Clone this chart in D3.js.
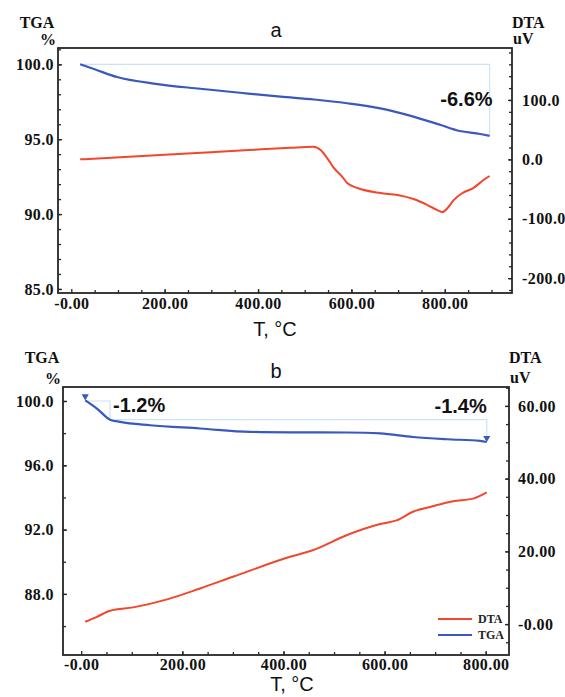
<!DOCTYPE html>
<html>
<head>
<meta charset="utf-8">
<script src="https://cdn.jsdelivr.net/npm/d3@7"></script>
<style>
  html, body { margin: 0; padding: 0; background: #fff; }
  svg { display: block; }
</style>
</head>
<body>
<script>
// ---- panel a ----
const tempA_tga = [19, 50, 98, 180, 276, 362, 448, 520, 591, 662, 733, 791, 827, 876, 896];
const tgaA = [100.0, 99.67, 99.15, 98.7, 98.37, 98.1, 97.84, 97.65, 97.4, 97.06, 96.51, 95.95, 95.58, 95.35, 95.22];
const tempA_dta = [19, 200, 380, 469, 519, 534, 551, 561, 581, 591, 613, 662, 699, 733, 763, 784, 795, 806, 819, 838, 861, 883, 896];
const dtaA = [0, 7.7, 15.6, 19.5, 21.2, 15.7, -1.2, -13, -29.8, -39.9, -48.3, -56.7, -60, -66.8, -76.9, -85.4, -88.7, -82, -68.5, -56.7, -48.3, -34.8, -28];

// ---- panel b ----
const tempB_tga = [8, 31, 57, 77, 136, 235, 334, 413, 526, 591, 656, 723, 789, 802];
const tgaB = [100.04, 99.53, 98.84, 98.70, 98.49, 98.29, 98.08, 98.05, 98.04, 97.98, 97.76, 97.62, 97.52, 97.45];
const tempB_dta = [8, 31, 57, 103, 170, 235, 300, 413, 458, 526, 591, 625, 656, 690, 735, 775, 802];
const dtaB = [0.63, 2.0, 3.65, 4.6, 6.8, 9.8, 13.0, 18.5, 20.3, 24.5, 27.5, 28.6, 30.9, 32.2, 33.8, 34.5, 36.2];

// mass-loss steps: [t start, t end, tga from, tga to, label]
const stepsA = [[19, 896, 100.0, 95.22, '-6.6%']];
const stepsB = [[8, 57, 100.0, 98.84, '-1.2%'], [57, 802, 98.84, 97.45, '-1.4%']];

// ticks
const xTicks = [0, 200, 400, 600, 800];
const xTickLabels = ['-0.00', '200.00', '400.00', '600.00', '800.00'];
const tgaTicksA = [85, 90, 95, 100];
const tgaLabelsA = ['85.0', '90.0', '95.0', '100.0'];
const dtaTicksA = [-200, -100, 0, 100];
const dtaLabelsA = ['-200.0', '-100.0', '0.0', '100.0'];
const tgaTicksB = [88, 92, 96, 100];
const tgaLabelsB = ['88.0', '92.0', '96.0', '100.0'];
const dtaTicksB = [0, 20, 40, 60];
const dtaLabelsB = ['-0.00', '20.00', '40.00', '60.00'];

const legendNames = ['DTA', 'TGA'];

const COLORS = {
  TGA: '#3a58bd',
  DTA: '#f2472c',
  STEP: '#c9e4f5',
  AXIS: '#262626'
};
const SERIF = '"Liberation Serif", "Times New Roman", serif';
const SANS = '"Liberation Sans", Arial, sans-serif';

const svg = d3.select('body').append('svg')
  .attr('width', 565)
  .attr('height', 697)
  .attr('viewBox', [0, 0, 565, 697]);

const range = (a, b, s) => d3.range(a, b + s / 2, s);

const styleTickText = g => {
  g.select('.domain').remove();
  g.selectAll('line').attr('stroke', COLORS.AXIS).attr('stroke-width', 1.3);
  g.selectAll('text')
    .attr('font-family', SERIF)
    .attr('font-weight', 'bold')
    .attr('font-size', 16)
    .attr('letter-spacing', 0.4)
    .attr('fill', '#111');
};

function drawPanel(p) {
  const x = d3.scaleLinear().domain(p.xDomain).range([p.left, p.right]);
  const yL = d3.scaleLinear().domain(p.tgaDomain).range([p.bottom, p.top]);
  const yR = d3.scaleLinear().domain(p.dtaDomain).range([p.bottom, p.top]);
  const g = svg.append('g');

  // step brackets
  p.steps.forEach(([t0, t1, v0, v1]) => {
    g.append('path')
      .attr('d', d3.line()([[x(t0), yL(v0)], [x(t1), yL(v0)], [x(t1), yL(v1)]]))
      .attr('fill', 'none')
      .attr('stroke', COLORS.STEP)
      .attr('stroke-width', 1.2);
  });

  const tgaLine = d3.line().x(d => x(d[0])).y(d => yL(d[1])).curve(d3.curveMonotoneX);
  const dtaLine = d3.line().x(d => x(d[0])).y(d => yR(d[1])).curve(d3.curveMonotoneX);

  g.append('path')
    .attr('d', dtaLine(d3.zip(p.dtaT, p.dta)))
    .attr('fill', 'none').attr('stroke', COLORS.DTA).attr('stroke-width', 2);
  g.append('path')
    .attr('d', tgaLine(d3.zip(p.tgaT, p.tga)))
    .attr('fill', 'none').attr('stroke', COLORS.TGA).attr('stroke-width', 2.2);

  if (p.markers) {
    const tri = d3.symbol().type(d3.symbolTriangle).size(22);
    [[p.tgaT[0], p.tga[0]], [p.tgaT[p.tgaT.length - 1], p.tga[p.tga.length - 1]]].forEach(([t, v]) => {
      g.append('path')
        .attr('d', tri())
        .attr('transform', `translate(${x(t)},${yL(v) - 4}) rotate(180)`)
        .attr('fill', COLORS.TGA);
    });
  }

  // step labels
  p.steps.forEach((s, i) => {
    const lab = p.stepLabels[i];
    g.append('text')
      .attr('x', x(lab.t) + lab.dx)
      .attr('y', yL(lab.v))
      .attr('text-anchor', lab.anchor)
      .attr('font-family', SANS)
      .attr('font-weight', 'bold')
      .attr('font-size', 20)
      .attr('fill', '#111')
      .text(s[4]);
  });

  // axes
  g.append('g').attr('transform', `translate(0,${p.bottom})`)
    .call(d3.axisBottom(x).tickValues(p.xMinor).tickSize(-3).tickFormat(''))
    .call(styleTickText);
  g.append('g').attr('transform', `translate(0,${p.bottom})`)
    .call(d3.axisBottom(x).tickValues(xTicks).tickSize(-4).tickPadding(p.xPad)
      .tickFormat((d, i) => xTickLabels[i]))
    .call(styleTickText);

  g.append('g').attr('transform', `translate(${p.left},0)`)
    .call(d3.axisLeft(yL).tickValues(p.tgaMinor).tickSize(-3).tickFormat(''))
    .call(styleTickText);
  g.append('g').attr('transform', `translate(${p.left},0)`)
    .call(d3.axisLeft(yL).tickValues(p.tgaTicks).tickSize(-4).tickPadding(p.lPad)
      .tickFormat((d, i) => p.tgaLabels[i]))
    .call(styleTickText);

  g.append('g').attr('transform', `translate(${p.right},0)`)
    .call(d3.axisRight(yR).tickValues(p.dtaMinor).tickSize(-3).tickFormat(''))
    .call(styleTickText);
  g.append('g').attr('transform', `translate(${p.right},0)`)
    .call(d3.axisRight(yR).tickValues(p.dtaTicks).tickSize(-4).tickPadding(p.rPad)
      .tickFormat((d, i) => p.dtaLabels[i]))
    .call(styleTickText);

  g.append('rect')
    .attr('x', p.left).attr('y', p.top)
    .attr('width', p.right - p.left).attr('height', p.bottom - p.top)
    .attr('fill', 'none').attr('stroke', COLORS.AXIS).attr('stroke-width', 1.8);

  // axis titles
  const boldSerif = sel => sel.attr('font-family', SERIF).attr('font-weight', 'bold')
    .attr('font-size', 16).attr('fill', '#111');
  g.append('text').attr('x', p.left - 21).attr('y', p.top - p.tTop).attr('text-anchor', 'middle').call(boldSerif).text('TGA');
  g.append('text').attr('x', p.left - 10).attr('y', p.top - 3).attr('text-anchor', 'middle').call(boldSerif).text('%');
  g.append('text').attr('x', p.right).attr('y', p.top - p.tTop).call(boldSerif).text('DTA');
  g.append('text').attr('x', p.right + 1).attr('y', p.top - 4).call(boldSerif).text('uV');

  g.append('text').attr('x', 276).attr('y', p.titleY).attr('text-anchor', 'middle')
    .attr('font-family', SANS).attr('font-size', 20).attr('fill', '#111').text(p.title);

  g.append('text').attr('x', p.xLabelX).attr('y', p.xLabelY).attr('text-anchor', 'middle')
    .attr('font-family', SANS).attr('font-size', 20).attr('fill', '#111').text('T, °C');

  if (p.legend) {
    const lg = g.append('g').attr('transform', `translate(${p.right - 71},${p.bottom - 36})`);
    [COLORS.DTA, COLORS.TGA].forEach((c, i) => {
      lg.append('line').attr('x1', 0).attr('x2', 34).attr('y1', i * 16).attr('y2', i * 16)
        .attr('stroke', c).attr('stroke-width', 2);
      lg.append('text').attr('x', 40).attr('y', i * 16 + 4)
        .attr('font-family', SERIF).attr('font-weight', 'bold').attr('font-size', 12)
        .attr('fill', '#222').text(legendNames[i]);
    });
  }
}

drawPanel({
  left: 58, right: 512, top: 48, bottom: 293,
  xDomain: [-28.5, 944], tgaDomain: [84.73, 101.09], dtaDomain: [-225, 187.5],
  tgaT: tempA_tga, tga: tgaA, dtaT: tempA_dta, dta: dtaA,
  steps: stepsA,
  stepLabels: [{ t: 896, v: 97.2, dx: 3, anchor: 'end' }],
  xMinor: range(50, 900, 50), tgaMinor: range(85, 101, 1), dtaMinor: range(-220, 180, 20),
  tgaTicks: tgaTicksA, tgaLabels: tgaLabelsA, dtaTicks: dtaTicksA, dtaLabels: dtaLabelsA,
  xPad: 5, lPad: 4, rPad: 10, tTop: 20,
  title: 'a', titleY: 37, xLabelX: 275, xLabelY: 336,
  markers: false, legend: false
});

drawPanel({
  left: 63, right: 509, top: 387, bottom: 655,
  xDomain: [-36, 846], tgaDomain: [84.2, 100.87], dtaDomain: [-8.5, 65.2],
  tgaT: tempB_tga, tga: tgaB, dtaT: tempB_dta, dta: dtaB,
  steps: stepsB,
  stepLabels: [{ t: 57, v: 99.3, dx: 3, anchor: 'start' }, { t: 802, v: 99.25, dx: 0, anchor: 'end' }],
  xMinor: range(50, 800, 50), tgaMinor: range(86, 100, 2), dtaMinor: range(-5, 65, 5),
  tgaTicks: tgaTicksB, tgaLabels: tgaLabelsB, dtaTicks: dtaTicksB, dtaLabels: dtaLabelsB,
  xPad: 4, lPad: 9, rPad: 9, tTop: 24,
  title: 'b', titleY: 378, xLabelX: 292, xLabelY: 691,
  markers: true, legend: true
});
</script>
</body>
</html>
